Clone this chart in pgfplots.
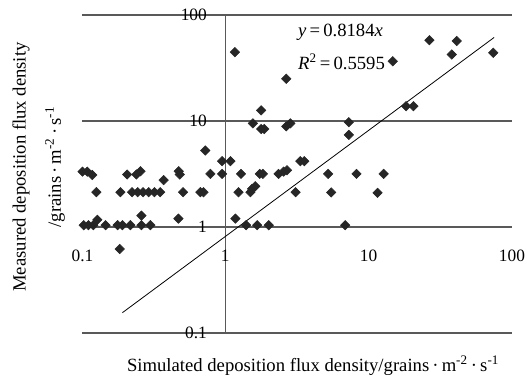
\documentclass[border=0pt]{standalone}
\usepackage{fontspec}
\setmainfont{Liberation Serif}
\usepackage{pgfplots}
\pgfplotsset{compat=1.18}
\pgfplotstableread{
x y
0.102 1.04
0.110 1.04
0.119 1.04
0.127 1.17
0.145 1.04
0.176 1.04
0.190 1.04
0.216 1.04
0.258 1.04
0.258 1.28
0.298 1.04
0.468 1.20
0.182 0.62
0.125 2.13
0.184 2.13
0.222 2.13
0.243 2.13
0.265 2.13
0.290 2.13
0.318 2.13
0.349 2.13
0.504 2.13
0.666 2.13
0.700 2.13
0.100 3.33
0.108 3.33
0.117 3.10
0.205 3.13
0.238 3.13
0.254 3.36
0.369 2.77
0.470 3.36
0.478 3.13
0.782 3.17
0.944 3.17
0.944 4.18
1.08 4.18
0.721 5.27
1.28 3.17
1.73 3.17
1.82 3.17
2.34 3.17
2.54 3.33
2.68 3.43
3.32 4.18
3.54 4.18
5.20 3.17
8.20 3.17
12.7 3.17
1.23 2.13
1.49 2.13
1.53 2.29
1.61 2.42
3.08 2.13
5.46 2.12
11.5 2.10
1.17 1.20
1.39 1.04
1.66 1.04
2.00 1.04
6.84 1.04
1.16 44.6
2.65 25.0
1.77 12.6
1.55 9.5
1.77 8.4
1.86 8.4
2.65 8.9
2.83 9.5
7.25 9.75
7.25 7.4
14.7 36.6
26.5 57.8
41.1 56.9
38.0 42.4
74.0 44.0
18.2 13.8
20.5 13.8
}\datatable
\begin{document}
\begin{tikzpicture}
\begin{axis}[
  at={(0pt,0pt)}, anchor=south west,
  scale only axis, width=322.1pt, height=238.5pt,
  xmode=log, ymode=log,
  xmin=0.1, xmax=100, ymin=0.1, ymax=100,
  axis line style={draw=none},
  tick style={draw=none},
  xtick=\empty,
  ytick={0.1,1,10,100},
  yticklabels=\empty,
  ymajorgrids,
  grid style={draw=black!65, line width=0.8pt},
  clip=false,
]
\draw[black!65, line width=0.8pt] (axis cs:1,0.1) -- (axis cs:1,100);
\addplot[black, line width=0.6pt] coordinates {(0.19,0.1555) (75,61.38)};
\addplot[only marks, mark=square*, mark size=2.5pt,
  mark options={rotate=45, fill=black!85, draw=black!85}] table[x=x,y=y] {\datatable};
\end{axis}
\begin{scope}[font=\fontsize{13}{15}\selectfont]
\node[anchor=east,inner sep=0] at (93.4pt,238.5pt) {100};
\node[anchor=east,inner sep=0] at (93.4pt,159pt) {10};
\node[anchor=east,inner sep=0] at (93.4pt,79.5pt) {1};
\node[anchor=east,inner sep=0] at (93.4pt,0pt) {0.1};
\node[inner sep=0] at (0pt,57.75pt) {0.1};
\node[inner sep=0] at (107.1pt,57.75pt) {1};
\node[inner sep=0] at (214.6pt,57.75pt) {10};
\node[inner sep=0] at (322.1pt,57.75pt) {100};
\end{scope}
\begin{scope}[font=\fontsize{14}{16}\selectfont]
\node[anchor=west,inner sep=0] at (161.6pt,225.75pt) {\textit{y}\,=\,0.8184\textit{x}};
\node[anchor=west,inner sep=0] at (161.6pt,203.25pt) {\textit{R}\textsuperscript{2}\,=\,0.5595};
\node[rotate=90,inner sep=0] at (-46.1pt,124.5pt) {Measured deposition flux density};
\node[rotate=90,inner sep=0] at (-20.6pt,124.5pt) {/grains\,·\,m\textsuperscript{-2}\,·\,s\textsuperscript{-1}};
\node[inner sep=0] at (172.9pt,-24.75pt) {Simulated deposition flux density/grains\,·\,m\textsuperscript{-2}\,·\,s\textsuperscript{-1}};
\end{scope}
\pgfresetboundingbox
\useasboundingbox (-61.875pt,-36.75pt) rectangle (333.375pt,249.75pt);
\end{tikzpicture}
\end{document}
